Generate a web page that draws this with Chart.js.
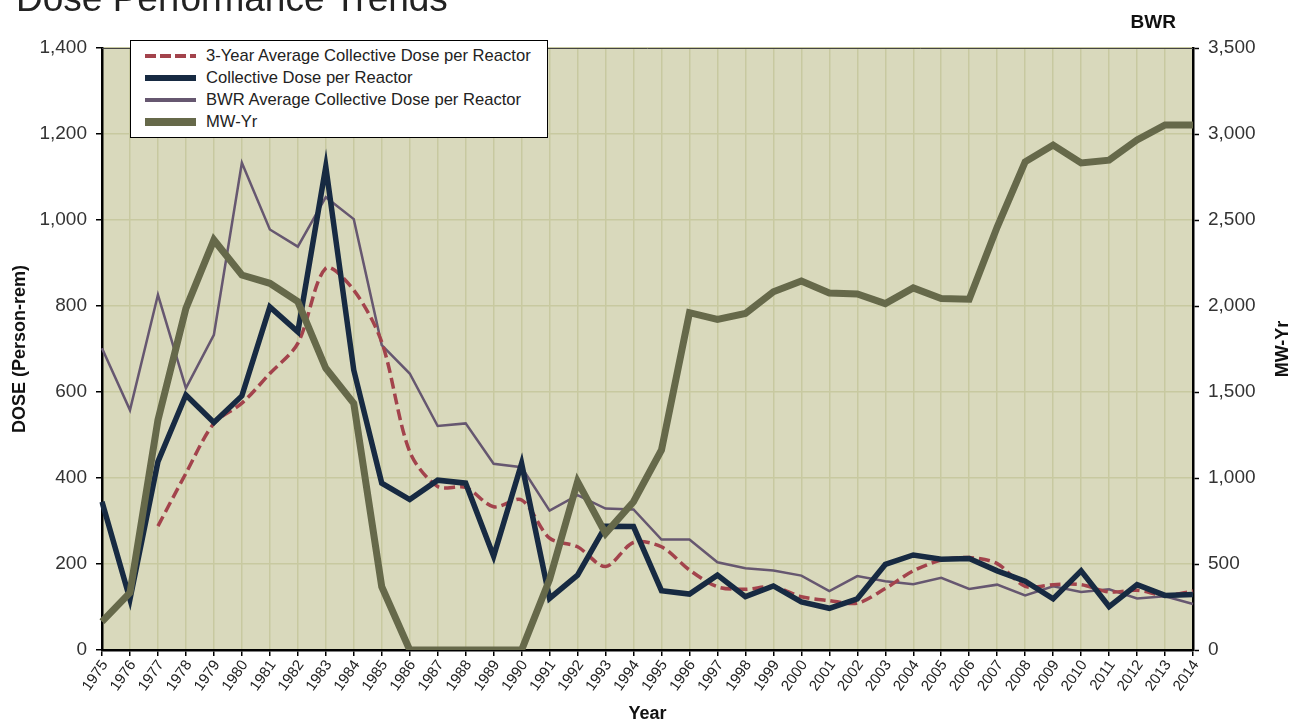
<!DOCTYPE html>
<html>
<head>
<meta charset="utf-8">
<title>Dose Performance Trends</title>
<script src="https://cdn.jsdelivr.net/npm/chart.js"></script>
<style>
  body { margin: 0; background: #fff; font-family: "Liberation Sans", Arial, sans-serif; }
  #wrap { position: relative; width: 1291px; height: 721px; overflow: hidden; }
  #title { position: absolute; left: 16px; top: -19px; font-size: 37px; line-height: 36px; color: #222; white-space: nowrap; }
  #plant { position: absolute; right: 115px; top: 12px; font-size: 19px; line-height: 19px; font-weight: bold; color: #111; }
  #legend { position: absolute; left: 130px; top: 40px; width: 416px; height: 96px; background: #fff; border: 1.5px solid #000; }
  .row { position: absolute; left: 0; height: 22px; display: flex; align-items: center; font-size: 16.6px; color: #222; white-space: nowrap; }
  .swatch { margin-left: 14px; width: 51px; margin-right: 10px; }
</style>
</head>
<body>
<div id="wrap">
  <canvas id="myChart" width="1291" height="721"></canvas>
  <div id="title">Dose Performance Trends</div>
  <div id="plant">BWR</div>
  <div id="legend"></div>
</div>
<script>
var years = ["1975","1976","1977","1978","1979","1980","1981","1982","1983","1984",
  "1985","1986","1987","1988","1989","1990","1991","1992","1993","1994",
  "1995","1996","1997","1998","1999","2000","2001","2002","2003","2004",
  "2005","2006","2007","2008","2009","2010","2011","2012","2013","2014"];

// 3-year rolling average starts in 1977
var threeYearAvg = [null, null, 288, 411, 527, 574, 643, 713, 888, 837,
  716, 461, 380, 378, 333, 349, 260, 240, 194, 250,
  240, 186, 147, 141, 147, 124, 115, 109, 143, 184,
  209, 215, 201, 148, 152, 152, 135, 139, 127, 137];

var collectiveDose = [345, 118, 438, 593, 529, 591, 798, 740, 1124, 651,
  388, 350, 395, 388, 218, 434, 120, 174, 288, 287,
  138, 130, 174, 124, 149, 112, 97, 119, 199, 221,
  211, 213, 184, 160, 119, 184, 101, 152, 127, 129];

var bwrAverage = [702, 558, 826, 609, 733, 1133, 978, 938, 1053, 1002,
  709, 643, 521, 527, 433, 425, 324, 360, 329, 327,
  257, 257, 204, 190, 185, 173, 137, 172, 160, 153,
  168, 142, 152, 127, 148, 135, 141, 120, 125, 107];

var mwYr = [165, 333, 1337, 1986, 2384, 2180, 2132, 2025, 1638, 1434,
  368, 0, 0, 0, 0, 0, 410, 979, 678, 862,
  1163, 1961, 1922, 1957, 2083, 2145, 2076, 2070, 2014, 2105,
  2043, 2039, 2459, 2838, 2936, 2832, 2848, 2965, 3053, 3053];

var doseTicks = [0, 200, 400, 600, 800, 1000, 1200, 1400];
var mwTicks = [0, 500, 1000, 1500, 2000, 2500, 3000, 3500];

var FONT = '"Liberation Sans", Arial, sans-serif';
var gridColor = "#c8c9a0";
var plotBg = "#d9d9bc";

// fill the plot area and draw the right axis title (reads bottom to top)
var plotDecor = {
  id: 'plotDecor',
  beforeDraw: function (chart) {
    var a = chart.chartArea, ctx = chart.ctx;
    ctx.save();
    ctx.fillStyle = plotBg;
    ctx.fillRect(a.left, a.top, a.right - a.left, a.bottom - a.top);
    ctx.restore();
  },
  afterDraw: function (chart) {
    var a = chart.chartArea, ctx = chart.ctx;
    ctx.save();
    ctx.strokeStyle = "#444";
    ctx.lineWidth = 1;
    ctx.beginPath();
    ctx.moveTo(a.left, a.top + 0.5);
    ctx.lineTo(a.right, a.top + 0.5);
    ctx.stroke();
    ctx.translate(1283, (a.top + a.bottom) / 2);
    ctx.rotate(-Math.PI / 2);
    ctx.font = "bold 18px " + FONT;
    ctx.fillStyle = "#111";
    ctx.textAlign = "center";
    ctx.textBaseline = "middle";
    ctx.fillText("MW-Yr", 0, 0);
    ctx.restore();
  }
};

var chart = new Chart("myChart", {
  type: "line",
  data: {
    labels: years,
    datasets: [{
      label: "3-Year Average Collective Dose per Reactor",
      data: threeYearAvg,
      borderColor: "#a3434c",
      borderWidth: 3.5,
      borderDash: [11, 5],
      tension: 0.3,
      yAxisID: "y",
      order: 2
    }, {
      label: "Collective Dose per Reactor",
      data: collectiveDose,
      borderColor: "#172a42",
      borderWidth: 5.5,
      yAxisID: "y",
      order: 1
    }, {
      label: "BWR Average Collective Dose per Reactor",
      data: bwrAverage,
      borderColor: "#665770",
      borderWidth: 2.5,
      yAxisID: "y",
      order: 3
    }, {
      label: "MW-Yr",
      data: mwYr,
      borderColor: "#66694a",
      borderWidth: 7,
      yAxisID: "y1",
      order: 0
    }]
  },
  options: {
    responsive: false,
    animation: false,
    devicePixelRatio: 1,
    layout: { padding: { top: 48, left: 0, right: 0, bottom: 0 } },
    elements: { point: { radius: 0 }, line: { fill: false } },
    plugins: {
      legend: { display: false },
      title: { display: false },
      tooltip: { enabled: false }
    },
    scales: {
      x: {
        offset: false,
        afterFit: function (s) { s.height = 71; },
        grid: { color: gridColor, lineWidth: 1.5, tickColor: "#000", tickLength: 6, tickWidth: 1.5 },
        border: { color: "#000", width: 2.5 },
        ticks: { autoSkip: false, minRotation: 55, maxRotation: 55, padding: 1, labelOffset: 3, color: "#222", font: { family: FONT, size: 15 } },
        title: { display: true, text: "Year", color: "#111", padding: 0, font: { family: FONT, size: 18, weight: "bold", lineHeight: 0.8 } }
      },
      y: {
        position: "left",
        min: 0, max: 1400,
        afterFit: function (s) { s.width = 102; },
        afterBuildTicks: function (s) { s.ticks = doseTicks.map(function (v) { return { value: v }; }); },
        grid: { color: gridColor, lineWidth: 1.5, tickColor: "#000", tickLength: 6, tickWidth: 1.5 },
        border: { color: "#000", width: 2.5 },
        ticks: {
          padding: 9, color: "#333", font: { family: FONT, size: 19 },
          callback: function (v) { return v.toLocaleString("en-US"); }
        },
        title: { display: true, text: "DOSE (Person-rem)", color: "#111", padding: { top: 9, bottom: 0 }, font: { family: FONT, size: 18, weight: "bold" } }
      },
      y1: {
        position: "right",
        min: 0, max: 3500,
        afterFit: function (s) { s.width = 98; },
        afterBuildTicks: function (s) { s.ticks = mwTicks.map(function (v) { return { value: v }; }); },
        grid: { drawOnChartArea: false, tickColor: "#000", tickLength: 6, tickWidth: 1.5 },
        border: { color: "#000", width: 2.5 },
        ticks: {
          padding: 9, color: "#333", font: { family: FONT, size: 19 },
          callback: function (v) { return v.toLocaleString("en-US"); }
        }
      }
    }
  },
  plugins: [plotDecor]
});

// legend box built from the datasets
var legend = document.getElementById("legend");
chart.data.datasets.forEach(function (ds, i) {
  var row = document.createElement("div");
  row.className = "row";
  row.style.top = (4 + i * 22) + "px";
  var sw = document.createElement("div");
  sw.className = "swatch";
  var h = [4, 6, 4, 8][i];
  sw.style.height = h + "px";
  if (ds.borderDash) {
    sw.style.background = "repeating-linear-gradient(to right, " + ds.borderColor + " 0 11px, transparent 11px 15px)";
  } else {
    sw.style.background = ds.borderColor;
  }
  var txt = document.createElement("span");
  txt.textContent = ds.label;
  row.appendChild(sw);
  row.appendChild(txt);
  legend.appendChild(row);
});
</script>
</body>
</html>
